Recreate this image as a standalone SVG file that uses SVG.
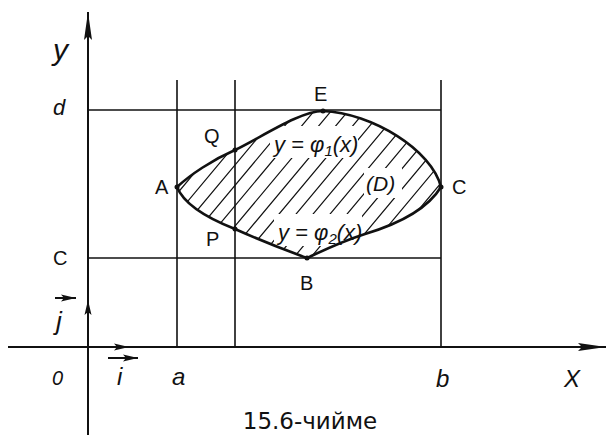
<svg xmlns="http://www.w3.org/2000/svg" width="609" height="435" viewBox="0 0 609 435">
<style>
.ax{stroke:#111;stroke-width:2;fill:none}
.gr{stroke:#111;stroke-width:1.6;fill:none}
.cv{stroke:#111;stroke-width:2.6;fill:none}
.ht{stroke:#111;stroke-width:1.2}
.lb{font-family:"Liberation Sans",Arial,sans-serif;font-size:20px;fill:#111}
.it{font-family:"Liberation Sans",Arial,sans-serif;font-style:italic;fill:#111}
.cap{font-family:"DejaVu Sans",Verdana,sans-serif;font-size:23px;fill:#111}
.pt{fill:#111}
</style>
<defs>
<marker id="ah" markerWidth="30" markerHeight="10" refX="28" refY="5" orient="auto" markerUnits="userSpaceOnUse">
<path d="M0,1 L28,5 L0,9 L4,5 Z" fill="#111"/>
</marker>
<marker id="ahs" markerWidth="16" markerHeight="8" refX="15" refY="4" orient="auto" markerUnits="userSpaceOnUse">
<path d="M0,0.5 L15,4 L0,7.5 L3,4 Z" fill="#111"/>
</marker>
<clipPath id="reg">
<path d="M177,187 C190,175 212,160 235,150 C262,137 300,111 323,111 C372,113 432,150 441,187 C430,205 405,222 365,234 C340,242 320,252 307,258 C285,250 255,238 235,229 C212,220 185,207 177,187 Z"/>
</clipPath>
<mask id="hole">
<rect x="0" y="0" width="609" height="435" fill="#fff"/>
<rect x="270" y="126" width="88" height="32" fill="#000"/>
<rect x="274" y="214" width="88" height="32" fill="#000"/>
<rect x="364" y="168" width="38" height="30" fill="#000"/>
</mask>
</defs>

<g id="connectors">
<line id="y-axis" class="ax" x1="88" y1="435" x2="88" y2="12" marker-end="url(#ah)"/>
<line id="x-axis" class="ax" x1="8" y1="347" x2="606" y2="347" marker-end="url(#ah)"/>
<line id="j-vec" class="ax" x1="88" y1="347" x2="88" y2="300" marker-end="url(#ahs)"/>
<line id="i-vec" class="ax" x1="88" y1="347" x2="129" y2="347" marker-end="url(#ahs)"/>
<line class="gr" x1="88" y1="110" x2="441" y2="110"/>
<line class="gr" x1="88" y1="258" x2="441" y2="258"/>
<line class="gr" x1="177" y1="80" x2="177" y2="347"/>
<line class="gr" x1="235" y1="80" x2="235" y2="347"/>
<line class="gr" x1="441" y1="80" x2="441" y2="347"/>
<line class="ax" x1="55" y1="298" x2="76" y2="298" stroke-width="1.5" marker-end="url(#ahs)"/>
<line class="ax" x1="108" y1="358" x2="138" y2="358" stroke-width="1.5" marker-end="url(#ahs)"/>
</g>

<g id="region-D">
<g clip-path="url(#reg)" mask="url(#hole)" class="ht">
<path d="M103,262 l132,-158 M120,262 l132,-158 M137,262 l132,-158 M154,262 l132,-158 M171,262 l132,-158 M188,262 l132,-158 M205,262 l132,-158 M222,262 l132,-158 M239,262 l132,-158 M256,262 l132,-158 M273,262 l132,-158 M290,262 l132,-158 M307,262 l132,-158 M324,262 l132,-158 M341,262 l132,-158 M358,262 l132,-158 M375,262 l132,-158 M392,262 l132,-158 M409,262 l132,-158 M426,262 l132,-158"/>
</g>
<path class="cv" d="M177,187 C190,175 212,160 235,150 C262,137 300,111 323,111 C372,113 432,150 441,187"/>
<path class="cv" d="M177,187 C185,207 212,220 235,229 C255,238 285,250 307,258 C320,252 340,242 365,234 C405,222 430,205 441,187"/>
<text class="it" x="274" y="152" font-size="22">y = φ<tspan font-size="15" dy="4">1</tspan><tspan dy="-4">(x)</tspan></text>
<text class="it" x="278" y="240" font-size="22">y = φ<tspan font-size="15" dy="4">2</tspan><tspan dy="-4">(x)</tspan></text>
<text class="it" x="366" y="191" font-size="21">(D)</text>
</g>

<g id="point-A"><circle class="pt" cx="177" cy="187" r="2.5"/><text class="lb" x="155" y="194">A</text></g>
<g id="point-Q"><circle class="pt" cx="235" cy="150" r="2.5"/><text class="lb" x="204" y="143">Q</text></g>
<g id="point-E"><circle class="pt" cx="323" cy="111" r="2.5"/><text class="lb" x="314" y="101" font-size="17">E</text></g>
<g id="point-C"><circle class="pt" cx="441" cy="187" r="2.5"/><text class="lb" x="452" y="194">C</text></g>
<g id="point-B"><circle class="pt" cx="307" cy="258" r="2.5"/><text class="lb" x="300" y="290" font-size="18">B</text></g>
<g id="point-P"><circle class="pt" cx="235" cy="229" r="2.5"/><text class="lb" x="206" y="246" font-size="18">P</text></g>

<g id="labels">
<text class="it" x="53" y="60" font-size="30">y</text>
<text class="it" x="53" y="115" font-size="22">d</text>
<text class="lb" x="53" y="265">C</text>
<text class="it" x="56" y="330" font-size="26">j</text>
<text class="it" x="52" y="385" font-size="20">0</text>
<text class="it" x="117" y="385" font-size="24">i</text>
<text class="it" x="172" y="385" font-size="24">a</text>
<text class="it" x="436" y="387" font-size="24">b</text>
<text class="it" x="564" y="387" font-size="24">X</text>
<text class="cap" x="310" y="429" text-anchor="middle">15.6-чийме</text>
</g>
</svg>
